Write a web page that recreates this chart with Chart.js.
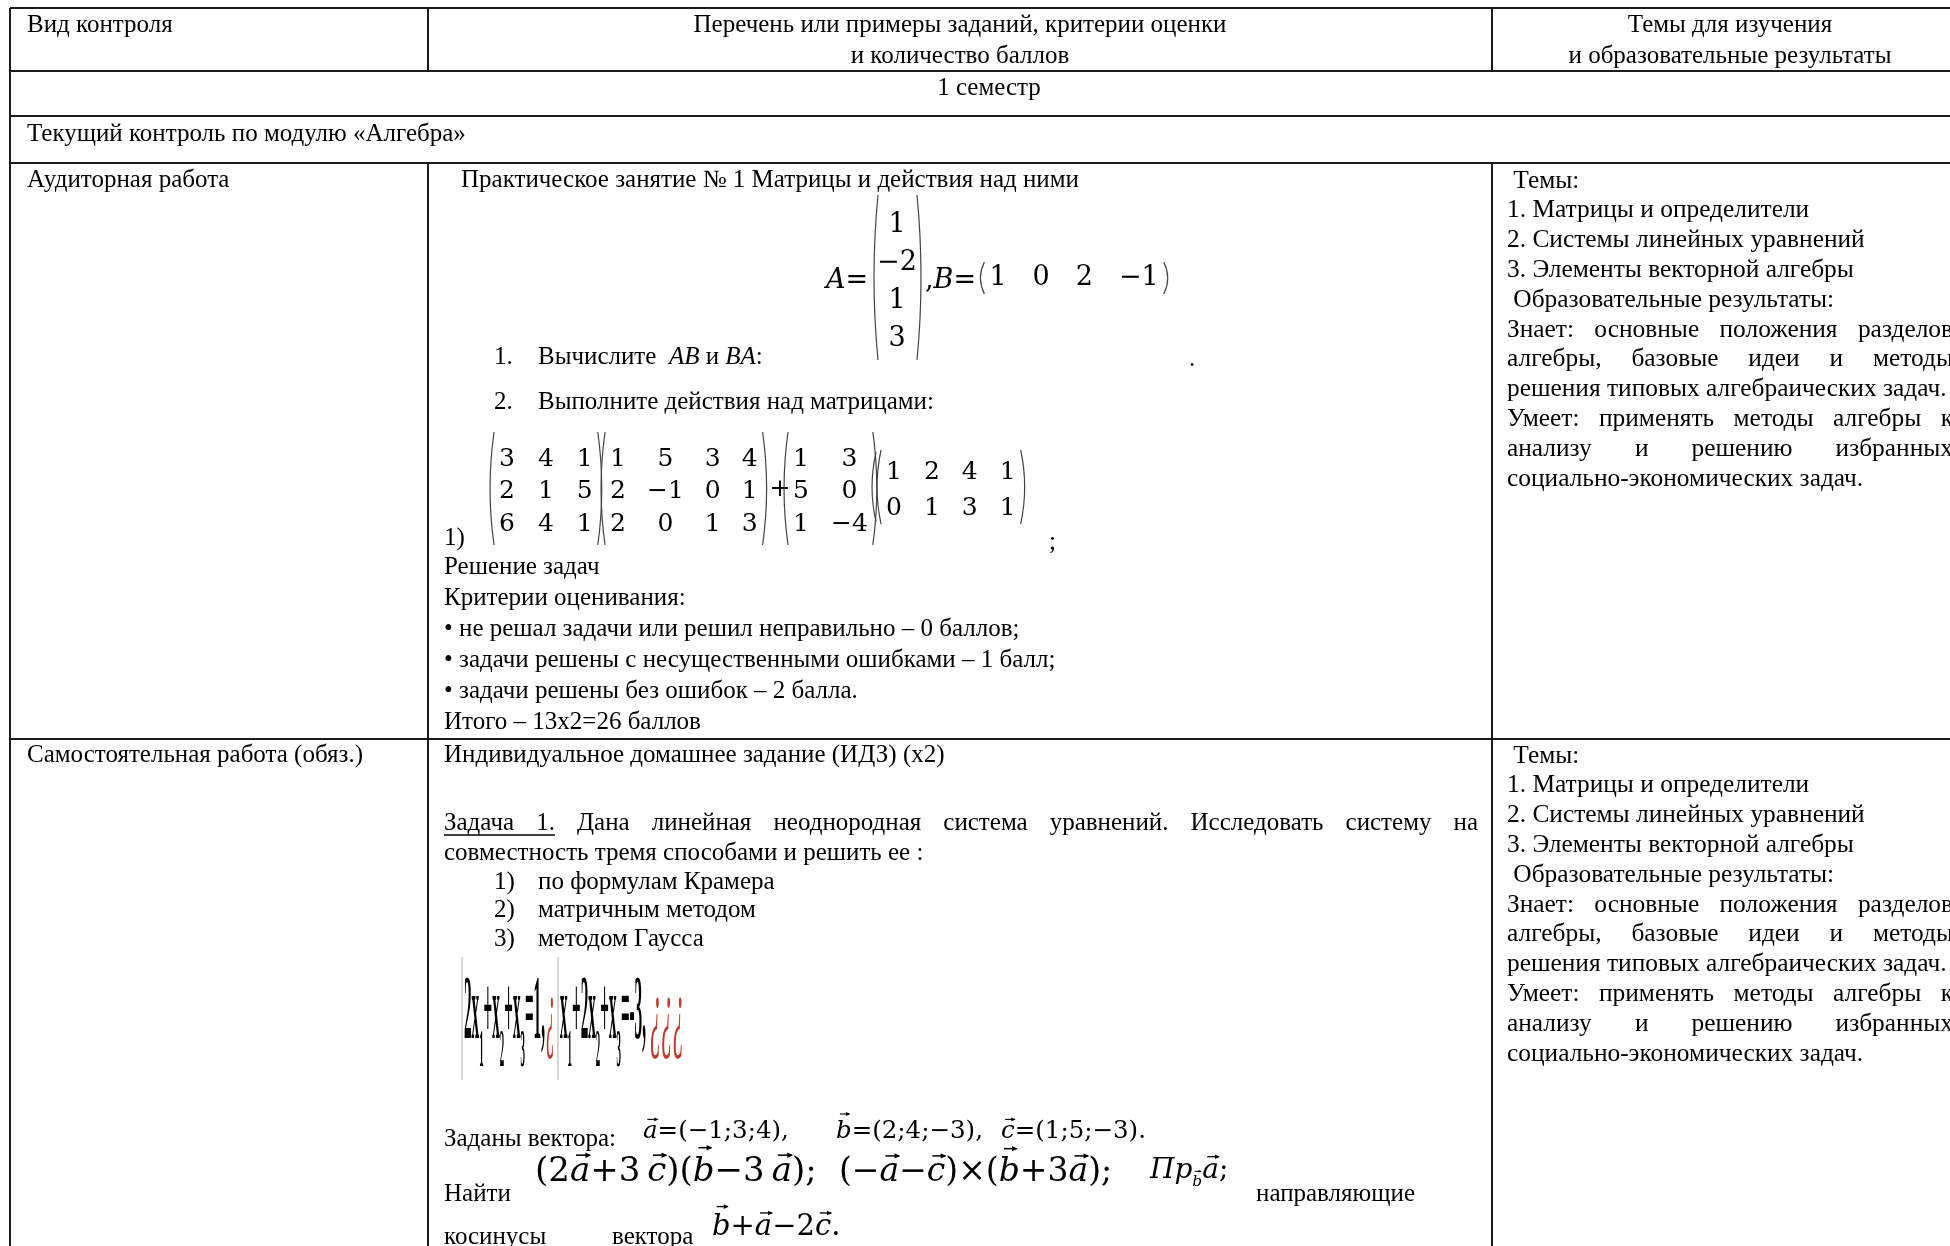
<!DOCTYPE html>
<html>
<head>
<meta charset="utf-8">
<script src="https://cdn.jsdelivr.net/npm/chart.js"></script>
<style>
body{margin:0;background:#fff;overflow:hidden}
canvas{display:block}
</style>
</head>
<body>
<canvas id="sheet" width="1950" height="1246"></canvas>
<script>
// DATA

const headCol1 = ['Вид контроля']
const headCol2 = ['Перечень или примеры заданий, критерии оценки', 'и количество баллов']
const headCol3 = ['Темы для изучения', 'и образовательные результаты']
const semesterLabel = '1 семестр'
const moduleLabel = 'Текущий контроль по модулю «Алгебра»'
const controlTypes = ['Аудиторная работа', 'Самостоятельная работа (обяз.)']
const topicLines = [
' Темы:',
'1. Матрицы и определители',
'2. Системы линейных уравнений',
'3. Элементы векторной алгебры',
' Образовательные результаты:',
'Знает: основные положения разделов',
'алгебры, базовые идеи и методы',
'решения типовых алгебраических задач.',
'Умеет: применять методы алгебры к',
'анализу и решению избранных',
'социально-экономических задач.'
]
const practiceTitle = 'Практическое занятие № 1 Матрицы и действия над ними'
const colA = [1, -2, 1, 3]
const rowB = [1, 0, 2, -1]
const matM1 = [[3, 4, 1], [2, 1, 5], [6, 4, 1]]
const matM2 = [[1, 5, 3, 4], [2, -1, 0, 1], [2, 0, 1, 3]]
const matM3 = [[1, 3], [5, 0], [1, -4]]
const matM4 = [[1, 2, 4, 1], [0, 1, 3, 1]]
const criteriaLines = [
'Решение задач',
'Критерии оценивания:',
'• не решал задачи или решил неправильно – 0 баллов;',
'• задачи решены с несущественными ошибками – 1 балл;',
'• задачи решены без ошибок – 2 балла.',
'Итого – 13х2=26 баллов'
]
const homeworkTitle = 'Индивидуальное домашнее задание (ИДЗ) (x2)'
const taskLine1 = 'Задача 1. Дана линейная неоднородная система уравнений. Исследовать систему на'
const taskLine2 = 'совместность тремя способами и решить ее :'
const methodLines = ['по формулам Крамера', 'матричным методом', 'методом Гаусса']
const vecA = [-1, 3, 4]
const vecB = [2, 4, -3]
const vecC = [1, 5, -3]


// LAYOUT

const W = 1950, H = 1246
const FONT = '"Liberation Serif", "Times New Roman", serif'
const MF = '"DejaVu Serif", serif'
const FS = 25
const rowLines = [8, 71, 116, 163, 739]
const colLines = [10, 428, 1492, 1968]

function fmt(v){ return v < 0 ? '−' + (-v) : String(v) }

// table borders as line datasets
let borders = []
rowLines.forEach(y => borders.push([[colLines[0], y], [colLines[3], y]]))
borders.push([[colLines[0], rowLines[0]], [colLines[0], H + 20]])
borders.push([[colLines[3], rowLines[0]], [colLines[3], H + 20]])
;[colLines[1], colLines[2]].forEach(x => {
borders.push([[x, rowLines[0]], [x, rowLines[1]]])
borders.push([[x, rowLines[3]], [x, H + 20]])
})

let datasets = borders.map(seg => ({
data: seg.map(p => ({x: p[0], y: p[1]})),
showLine: true,
borderColor: '#1c1c1c',
borderWidth: 2,
pointRadius: 0,
clip: false
}))


// DRAW HELPERS

let X, Y

function txt(c, s, x, y, opt){
opt = opt || {}
c.font = (opt.style || '') + ' ' + (opt.size || FS) + 'px ' + (opt.family || FONT)
c.textAlign = opt.align || 'left'
c.textBaseline = opt.base || 'middle'
c.fillStyle = opt.color || '#000'
c.fillText(s, X(x), Y(y))
return c.measureText(s).width
}

// justified line, returns [x, width] of every word
function justify(c, s, x0, x1, y, size){
c.font = (size || FS) + 'px ' + FONT
c.textAlign = 'left'
c.textBaseline = 'middle'
c.fillStyle = '#000'
let words = s.split(' ')
let total = words.reduce((a, w) => a + c.measureText(w).width, 0)
let gap = (X(x1) - X(x0) - total) / (words.length - 1)
let cx = X(x0)
let out = []
words.forEach(w => {
let ww = c.measureText(w).width
c.fillText(w, cx, Y(y))
out.push([cx, ww])
cx += ww + gap
})
return out
}

function paren(c, x, y0, y1, dir){
c.beginPath()
c.moveTo(X(x) + dir * 4, Y(y0))
c.quadraticCurveTo(X(x) - dir * 4, (Y(y0) + Y(y1)) / 2, X(x) + dir * 4, Y(y1))
c.lineWidth = 1.2
c.strokeStyle = '#444'
c.stroke()
}

function drawMatrix(c, m, xFirst, rowYs, gap, size, top, bot){
c.font = size + 'px ' + MF
c.textAlign = 'center'
c.textBaseline = 'middle'
c.fillStyle = '#000'
let n = m[0].length
let widths = []
for(let j=0;j<n;j++){
widths[j] = Math.max(...m.map(r => c.measureText(fmt(r[j])).width))
}
let centers = [xFirst]
for(let j=1;j<n;j++) centers[j] = centers[j-1] + widths[j-1] / 2 + gap + widths[j] / 2
m.forEach((r, i) => r.forEach((v, j) => c.fillText(fmt(v), X(centers[j]), Y(rowYs[i]))))
let left = centers[0] - widths[0] / 2 - 9
let right = centers[n-1] + widths[n-1] / 2 + 9
paren(c, left, top, bot, 1)
paren(c, right, top, bot, -1)
return {left, right}
}

function vecLetter(c, ch, x, base, size){
c.font = 'italic ' + size + 'px ' + MF
c.textAlign = 'left'
c.textBaseline = 'alphabetic'
c.fillText(ch, x, base)
let w = c.measureText(ch).width
let tall = 'bdfhklt'.includes(ch)
let ay = base - size * (tall ? 0.98 : 0.76)
let ax0 = x + w * (tall ? 0.25 : 0.3)
let ax1 = x + w * (tall ? 0.85 : 1.0)
c.beginPath()
c.moveTo(ax0, ay)
c.lineTo(ax1, ay)
c.lineWidth = Math.max(1, size / 22)
c.strokeStyle = '#000'
c.stroke()
c.beginPath()
c.moveTo(ax1 + 1, ay)
c.lineTo(ax1 - size * 0.14, ay - size * 0.08)
c.lineTo(ax1 - size * 0.14, ay + size * 0.08)
c.closePath()
c.fillStyle = '#000'
c.fill()
return w
}

function mathRun(c, items, x, base, size){
let cx = X(x)
let by = Y(base)
c.textAlign = 'left'
c.textBaseline = 'alphabetic'
c.fillStyle = '#000'
items.forEach(it => {
if(typeof it === 'string'){
c.font = size + 'px ' + MF
c.fillText(it, cx, by)
cx += c.measureText(it).width
} else if(it.v){
cx += vecLetter(c, it.v, cx, by, size)
} else if(it.sv){
cx += vecLetter(c, it.sv, cx, by + size * 0.3, size * 0.55)
} else if(it.i){
c.font = 'italic ' + size + 'px ' + MF
c.fillText(it.i, cx, by)
cx += c.measureText(it.i).width
} else if(it.sp){
cx += it.sp
}
})
return cx
}

// broken equation object: squeezed bold glyphs
function squeezed(c, parts, x0, x1, base){
let big = 90, small = 52
let widthOf = p => {
c.font = (p.red ? 'italic ' : 'bold ') + (p.sub ? small : big) + 'px ' + FONT
return c.measureText(p.t).width
}
let total = parts.reduce((a, p) => a + widthOf(p), 0)
let s = (X(x1) - X(x0)) / total
c.save()
c.translate(X(x0), 0)
c.scale(s, 1)
c.textAlign = 'left'
c.textBaseline = 'alphabetic'
let cx = 0
parts.forEach(p => {
let w = widthOf(p)
c.fillStyle = p.red ? '#c0392b' : '#000'
c.fillText(p.t, cx, Y(base) + (p.sub ? 28 : 0))
cx += w
})
c.restore()
}


// DOCUMENT PLUGIN

const docPlugin = {
id: 'doc',
afterDatasetsDraw(chart){
const c = chart.ctx
X = v => chart.scales.x.getPixelForValue(v)
Y = v => chart.scales.y.getPixelForValue(v)
c.save()

// header
txt(c, headCol1[0], 27, 25)
headCol2.forEach((s, i) => txt(c, s, 960, 25 + i * 31, {align: 'center'}))
headCol3.forEach((s, i) => txt(c, s, 1730, 25 + i * 31, {align: 'center'}))
txt(c, semesterLabel, 989, 88, {align: 'center'})
txt(c, moduleLabel, 27, 134)

// left column
txt(c, controlTypes[0], 27, 180)
txt(c, controlTypes[1], 27, 755)

// right column (two rows)
;[181, 756].forEach(y0 => {
topicLines.forEach((s, i) => {
let y = y0 + i * 29.8
if(i >= 5 && !s.endsWith('.')) justify(c, s, 1507, 1953, y, 25.4)
else txt(c, s, 1507, y, {size: 25.4})
})
})

// row 1, middle
txt(c, practiceTitle, 461, 180)

mathRun(c, [{i: 'A'}, '='], 826, 288, 27)
c.font = '27px ' + MF
c.textAlign = 'center'
c.textBaseline = 'middle'
let aRows = [225, 263, 301, 339]
colA.forEach((v, i) => c.fillText(fmt(v), X(897), Y(aRows[i])))
paren(c, 874, 195, 360, 1)
paren(c, 921, 195, 360, -1)
mathRun(c, [',', {i: 'B'}, '='], 925, 288, 27)
drawMatrix(c, [rowB], 998, [278], 26, 27, 262, 294)

txt(c, '1.', 494, 357)
let cx = 538
cx += txt(c, 'Вычислите  ', cx, 357)
cx += txt(c, 'AB', cx, 357, {style: 'italic'})
cx += txt(c, ' и ', cx, 357)
cx += txt(c, 'BA', cx, 357, {style: 'italic'})
txt(c, ':', cx, 357)
txt(c, '.', 1189, 359)

txt(c, '2.', 494, 402)
txt(c, 'Выполните действия над матрицами:', 538, 402)

let r3 = [459, 491, 524]
drawMatrix(c, matM1, 507, r3, 23, 25, 432, 545)
drawMatrix(c, matM2, 618, r3, 21, 25, 432, 545)
txt(c, '+', 780, 489, {family: MF, size: 25, align: 'center'})
drawMatrix(c, matM3, 801, r3, 22, 25, 432, 545)
let m4 = drawMatrix(c, matM4, 894, [472, 508], 22, 25, 450, 524)
paren(c, m4.left - 5, 452, 522, 1)
txt(c, '1)', 444, 538)
txt(c, ';', 1049, 542)

criteriaLines.forEach((s, i) => txt(c, s, 444, 567 + i * 31))

// row 2, middle
txt(c, homeworkTitle, 444, 755)
let words = justify(c, taskLine1, 444, 1478, 823)
c.beginPath()
c.moveTo(words[0][0], Y(835))
c.lineTo(words[1][0] + words[1][1], Y(835))
c.lineWidth = 1.3
c.strokeStyle = '#000'
c.stroke()
txt(c, taskLine2, 444, 853)
methodLines.forEach((s, i) => {
txt(c, (i + 1) + ')', 494, 882 + i * 28.5)
txt(c, s, 538, 882 + i * 28.5)
})

// system of equations (broken object in the source)
c.beginPath()
c.moveTo(X(462), Y(957)); c.lineTo(X(462), Y(1080))
c.moveTo(X(558), Y(957)); c.lineTo(X(558), Y(1080))
c.lineWidth = 1
c.strokeStyle = '#aaa'
c.stroke()
squeezed(c, [{t: '2x'}, {t: '1', sub: true}, {t: '+x'}, {t: '2', sub: true}, {t: '+x'}, {t: '3', sub: true}, {t: '=1,'}], 464, 545, 1038)
squeezed(c, [{t: '¿', red: true}], 546, 555, 1040)
squeezed(c, [{t: 'x'}, {t: '1', sub: true}, {t: '+2x'}, {t: '2', sub: true}, {t: '+x'}, {t: '3', sub: true}, {t: '=-3,'}], 560, 646, 1038)
squeezed(c, [{t: '¿¿¿', red: true}], 650, 684, 1040)

// vectors
txt(c, 'Заданы вектора:', 444, 1139)
let vs = v => '=(' + v.map(fmt).join(';') + ')'
mathRun(c, [{v: 'a'}, vs(vecA) + ','], 643, 1138, 24.5)
mathRun(c, [{v: 'b'}, vs(vecB) + ','], 836, 1138, 24.5)
mathRun(c, [{v: 'c'}, vs(vecC) + '.'], 1001, 1138, 24.5)

txt(c, 'Найти', 444, 1194)
mathRun(c, ['(2', {v: 'a'}, '+3', {sp: 7}, {v: 'c'}, ')(', {v: 'b'}, '−3', {sp: 7}, {v: 'a'}, ');'], 535, 1181, 34)
mathRun(c, ['(−', {v: 'a'}, '−', {v: 'c'}, ')×(', {v: 'b'}, '+3', {v: 'a'}, ');'], 839, 1181, 33)
mathRun(c, [{i: 'Пр'}, {sv: 'b'}, {v: 'a'}, ';'], 1150, 1178, 28)
txt(c, 'направляющие', 1256, 1194)

txt(c, 'косинусы', 444, 1237)
txt(c, 'вектора', 612, 1237)
mathRun(c, [{v: 'b'}, '+', {v: 'a'}, '−2', {v: 'c'}, '.'], 712, 1235, 29)

c.restore()
}
}


// CHART

const ctx = document.getElementById('sheet')

new Chart(ctx, {
type: 'scatter',
data: {datasets: datasets},
options: {
responsive: false,
animation: false,
events: [],
layout: {padding: 0},
scales: {
x: {type: 'linear', min: 0, max: W, display: false},
y: {type: 'linear', min: 0, max: H, reverse: true, display: false}
},
plugins: {
legend: {display: false},
tooltip: {enabled: false}
}
},
plugins: [docPlugin]
})
</script>
</body>
</html>
